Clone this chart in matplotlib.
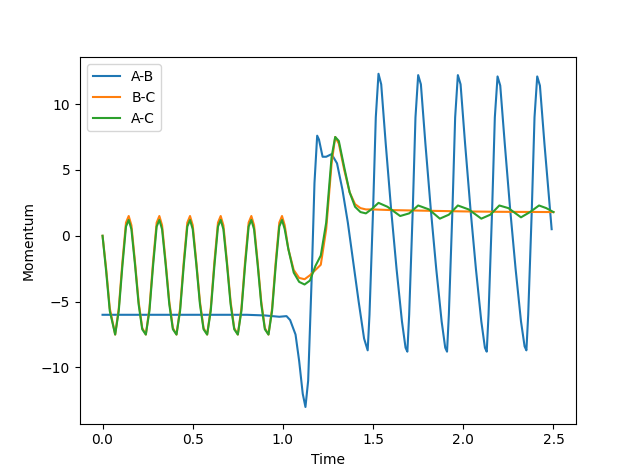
import matplotlib
matplotlib.use("Agg")
import matplotlib.pyplot as plt

# A-B momentum
t_ab = [0, 0.8, 0.9, 0.98, 1.02, 1.04, 1.07, 1.09, 1.11, 1.125, 1.14, 1.16, 1.175, 1.19, 1.2, 1.22, 1.24, 1.27,
        1.3, 1.33, 1.36, 1.39, 1.42, 1.45, 1.47,
        1.48, 1.50, 1.515, 1.53, 1.545, 1.57, 1.60, 1.63, 1.66, 1.68, 1.69,
        1.70, 1.72, 1.735, 1.75, 1.765, 1.79, 1.82, 1.85, 1.88, 1.90, 1.91,
        1.92, 1.94, 1.955, 1.97, 1.985, 2.01, 2.04, 2.07, 2.10, 2.12, 2.13,
        2.14, 2.16, 2.175, 2.19, 2.205, 2.23, 2.26, 2.29, 2.32, 2.34, 2.35,
        2.36, 2.38, 2.395, 2.41, 2.425, 2.45, 2.49]
p_ab = [-6, -6, -6.05, -6.15, -6.1, -6.4, -7.5, -9.5, -12, -13, -11, -3, 4, 7.6, 7.3, 6, 6, 6.2,
        5.5, 3.5, 1, -2, -5, -7.8, -8.7,
        -6, 2, 9, 12.3, 11.5, 7, 2, -2.5, -6.5, -8.5, -8.8,
        -6, 2, 9, 12.2, 11.5, 7, 2, -2.5, -6.5, -8.5, -8.8,
        -6, 2, 9, 12.2, 11.5, 7, 2, -2.5, -6.5, -8.5, -8.8,
        -6, 2, 9, 12.1, 11.4, 7, 2, -2.5, -6.5, -8.4, -8.7,
        -6, 2, 9, 12.1, 11.4, 7, 0.5]

# B-C momentum
t_bc = [0, 0.02, 0.04, 0.07, 0.09, 0.11, 0.13, 0.145, 0.16, 0.18, 0.2, 0.22,
        0.24, 0.26, 0.28, 0.3, 0.315, 0.33, 0.35, 0.37, 0.39,
        0.41, 0.43, 0.45, 0.47, 0.485, 0.5, 0.52, 0.54, 0.56,
        0.58, 0.6, 0.62, 0.64, 0.655, 0.67, 0.69, 0.71, 0.73,
        0.75, 0.77, 0.79, 0.81, 0.825, 0.84, 0.86, 0.88, 0.9,
        0.92, 0.94, 0.96, 0.98, 0.995, 1.01, 1.03, 1.06, 1.09, 1.12, 1.15, 1.18, 1.21, 1.24, 1.27,
        1.29, 1.31, 1.34, 1.37, 1.40, 1.43, 1.46, 1.5, 1.6, 1.8, 2.0, 2.2, 2.5]
p_bc = [0, -2.5, -5.5, -7.5, -5.5, -2, 1, 1.5, 0.8, -2, -5, -7,
        -7.5, -5.5, -2, 1, 1.5, 0.8, -2, -5, -7,
        -7.5, -5.5, -2, 1, 1.5, 0.8, -2, -5, -7,
        -7.5, -5.5, -2, 1, 1.5, 0.8, -2, -5, -7,
        -7.5, -5.5, -2, 1, 1.5, 0.8, -2, -5, -7,
        -7.5, -5.5, -2, 1, 1.5, 0.8, -1, -2.6, -3.2, -3.3, -3, -2.6, -2.2, 0.5, 5.5,
        7.5, 7, 5, 3.3, 2.4, 2.1, 2.0, 2.0, 1.95, 1.9, 1.85, 1.82, 1.8]

# A-C momentum
t_ac = [0, 0.02, 0.04, 0.07, 0.09, 0.11, 0.13, 0.145, 0.16, 0.18, 0.2, 0.22,
        0.24, 0.26, 0.28, 0.3, 0.315, 0.33, 0.35, 0.37, 0.39,
        0.41, 0.43, 0.45, 0.47, 0.485, 0.5, 0.52, 0.54, 0.56,
        0.58, 0.6, 0.62, 0.64, 0.655, 0.67, 0.69, 0.71, 0.73,
        0.75, 0.77, 0.79, 0.81, 0.825, 0.84, 0.86, 0.88, 0.9,
        0.92, 0.94, 0.96, 0.98, 0.995, 1.01, 1.03, 1.06, 1.09, 1.12, 1.15, 1.18, 1.21, 1.24, 1.27,
        1.29, 1.31, 1.34, 1.37, 1.40, 1.43, 1.46, 1.49, 1.53, 1.58, 1.65, 1.70, 1.75, 1.81, 1.87,
        1.92, 1.97, 2.03, 2.1, 2.15, 2.2, 2.25, 2.32, 2.37, 2.42, 2.46, 2.5]
p_ac = [0, -2.7, -5.7, -7.5, -5.7, -2.3, 0.7, 1.2, 0.5, -2.2, -5.2, -7.1,
        -7.5, -5.7, -2.3, 0.7, 1.2, 0.5, -2.2, -5.2, -7.1,
        -7.5, -5.7, -2.3, 0.7, 1.2, 0.5, -2.2, -5.2, -7.1,
        -7.5, -5.7, -2.3, 0.7, 1.2, 0.5, -2.2, -5.2, -7.1,
        -7.5, -5.7, -2.3, 0.7, 1.2, 0.5, -2.2, -5.2, -7.1,
        -7.5, -5.7, -2.3, 0.7, 1.2, 0.5, -1, -2.8, -3.5, -3.7, -3.4, -2.3, -1.5, 1, 6,
        7.5, 7.2, 5.2, 3.3, 2.2, 1.8, 1.7, 2.0, 2.5, 2.2, 1.5, 1.7, 2.3, 2.0, 1.3,
        1.6, 2.3, 2.0, 1.3, 1.6, 2.3, 2.1, 1.4, 1.8, 2.3, 2.1, 1.8]

fig, ax = plt.subplots(figsize=(6.4, 4.76), dpi=100)
ax.plot(t_ab, p_ab, label='A-B')
ax.plot(t_bc, p_bc, label='B-C')
ax.plot(t_ac, p_ac, label='A-C')
ax.set_xlabel('Time')
ax.set_ylabel('Momentum')
ax.legend(loc='upper left')
plt.savefig('out.png', dpi=100)
